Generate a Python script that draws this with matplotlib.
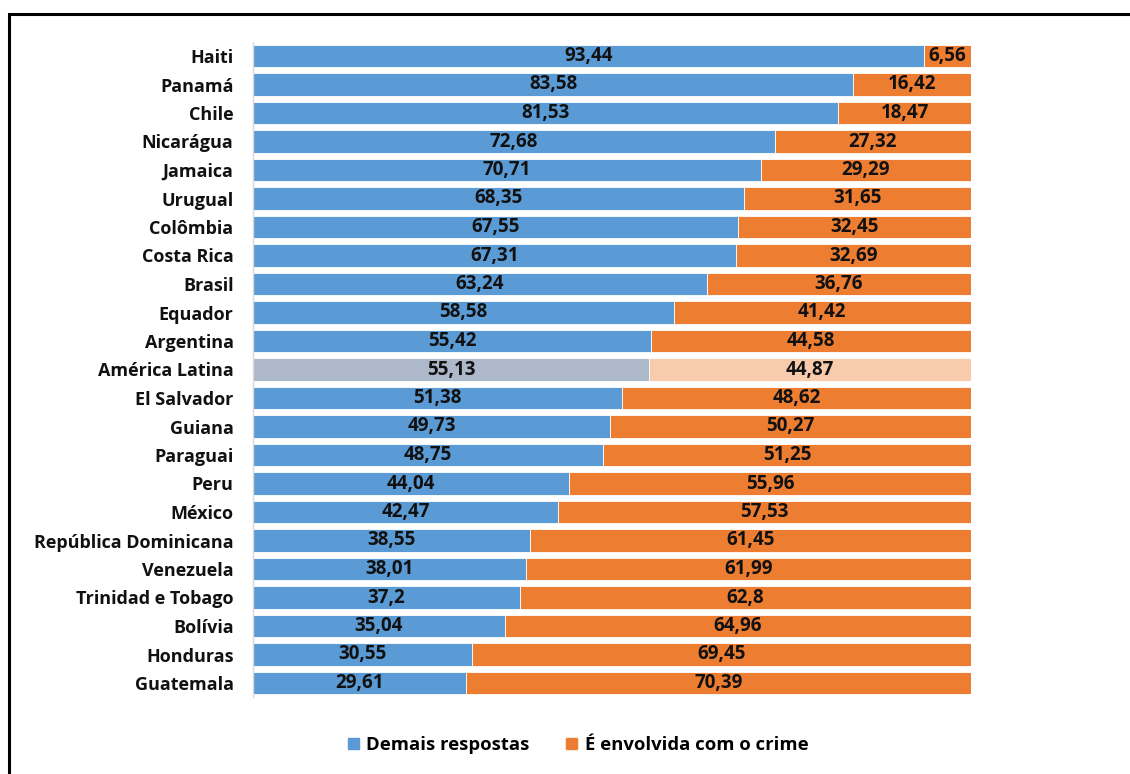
import matplotlib.pyplot as plt
from matplotlib.patches import Rectangle, Patch

paises = ['Haiti', 'Panamá', 'Chile', 'Nicarágua', 'Jamaica', 'Urugual', 'Colômbia',
          'Costa Rica', 'Brasil', 'Equador', 'Argentina', 'América Latina', 'El Salvador',
          'Guiana', 'Paraguai', 'Peru', 'México', 'República Dominicana', 'Venezuela',
          'Trinidad e Tobago', 'Bolívia', 'Honduras', 'Guatemala']
demais = [93.44, 83.58, 81.53, 72.68, 70.71, 68.35, 67.55, 67.31, 63.24, 58.58, 55.42,
          55.13, 51.38, 49.73, 48.75, 44.04, 42.47, 38.55, 38.01, 37.2, 35.04, 30.55, 29.61]
crime = [6.56, 16.42, 18.47, 27.32, 29.29, 31.65, 32.45, 32.69, 36.76, 41.42, 44.58,
         44.87, 48.62, 50.27, 51.25, 55.96, 57.53, 61.45, 61.99, 62.8, 64.96, 69.45, 70.39]
destaque = 'América Latina'

AZUL, LARANJA = '#5B9BD5', '#ED7D31'
AZUL_CLARO, LARANJA_CLARO = '#ADB9CA', '#F8CBAD'

plt.rcParams['font.family'] = ['Open Sans', 'DejaVu Sans']

def fmt(v):
    return ('%g' % v).replace('.', ',')

fig = plt.figure(figsize=(11.3, 7.74), dpi=100)
ax = fig.add_axes([253 / 1130, 1 - 697.25 / 774, 718 / 1130, 655.5 / 774])

y = list(range(len(paises)))
cor1 = [AZUL_CLARO if p == destaque else AZUL for p in paises]
cor2 = [LARANJA_CLARO if p == destaque else LARANJA for p in paises]
b1 = ax.barh(y, demais, height=0.78, color=cor1, edgecolor='white', linewidth=0.6)
b2 = ax.barh(y, crime, left=demais, height=0.78, color=cor2, edgecolor='white', linewidth=0.6)

for barras, vals in ((b1, demais), (b2, crime)):
    for r, v in zip(barras, vals):
        ax.text(r.get_x() + r.get_width() / 2, r.get_y() + r.get_height() / 2, fmt(v),
                ha='center', va='center', fontsize=13.5, fontweight='bold', color='#111111')

ax.set_xlim(0, 100)
ax.set_ylim(len(paises) - 0.5, -0.5)
ax.set_yticks(y)
ax.set_yticklabels(paises, fontsize=13, fontweight='bold', color='#111111')
ax.tick_params(axis='y', length=0, pad=14)
ax.set_xticks([])
for s in ['top', 'right', 'bottom']:
    ax.spines[s].set_visible(False)
ax.spines['left'].set_color('#D9D9D9')
ax.spines['left'].set_linewidth(1)

handles = [Patch(color=AZUL, label='Demais respostas'),
           Patch(color=LARANJA, label='É envolvida com o crime')]
fig.legend(handles=handles, loc='center', bbox_to_anchor=(578 / 1130, 1 - 745 / 774),
           ncol=2, frameon=False, handlelength=0.6, handleheight=0.6, handletextpad=0.4,
           columnspacing=2.0, prop={'size': 13.3, 'weight': 'bold'})

# moldura externa
fig.patches.append(Rectangle((9 / 1130, -0.1), 1.2, 1 - 14.5 / 774 + 0.1,
                             transform=fig.transFigure, fill=False,
                             edgecolor='black', linewidth=2.2))

fig.savefig('out.png', dpi=100)
